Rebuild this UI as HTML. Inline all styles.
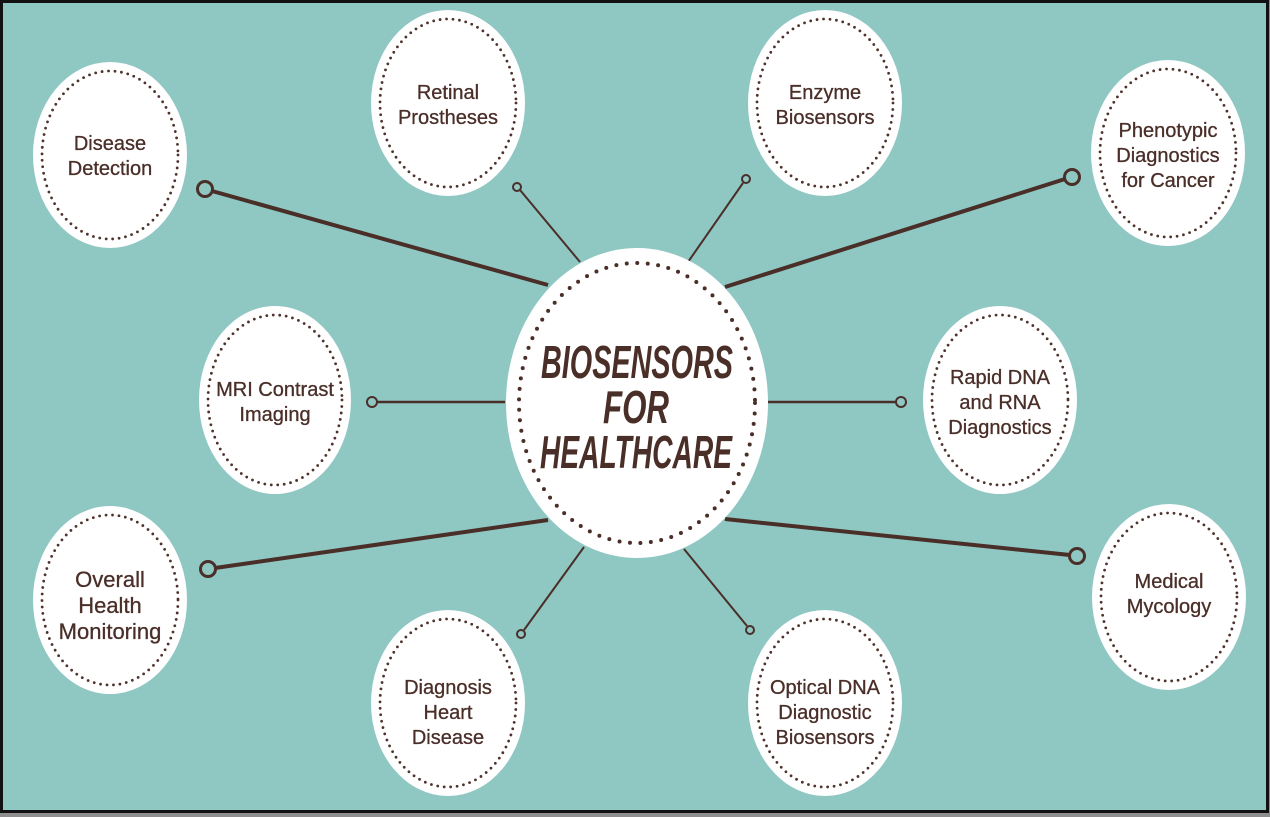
<!DOCTYPE html>
<html><head><meta charset="utf-8"><style>
html,body{margin:0;padding:0;background:#fff;}
svg{display:block;}
text{font-family:"Liberation Sans",sans-serif;fill:#4a2e28;text-anchor:middle;}
</style></head><body>
<svg width="1270" height="817" viewBox="0 0 1270 817" xmlns="http://www.w3.org/2000/svg">
<rect x="0" y="0" width="1270" height="817" fill="#8e8e8e"/>
<rect x="1.5" y="1.5" width="1266" height="810" fill="#8fc7c3" stroke="#111" stroke-width="3"/>
<g stroke="#4a2e28" fill="#8fc7c3">
<line x1="212" y1="191" x2="548" y2="285" stroke-width="4"/><circle cx="205" cy="189" r="7.5" stroke-width="3"/>
<line x1="520" y1="190" x2="580" y2="262" stroke-width="2"/><circle cx="517" cy="187" r="4" stroke-width="2"/>
<line x1="743" y1="183" x2="688" y2="262" stroke-width="2"/><circle cx="746" cy="179" r="4" stroke-width="2"/>
<line x1="1065" y1="179" x2="725" y2="287" stroke-width="4"/><circle cx="1072" cy="177" r="7.5" stroke-width="3"/>
<line x1="377" y1="402" x2="505" y2="402" stroke-width="2.5"/><circle cx="372" cy="402" r="5" stroke-width="2"/>
<line x1="768" y1="402" x2="896" y2="402" stroke-width="2.5"/><circle cx="901" cy="402" r="5" stroke-width="2"/>
<line x1="215" y1="568" x2="548" y2="520" stroke-width="4"/><circle cx="208" cy="569" r="7.5" stroke-width="3"/>
<line x1="725" y1="519" x2="1070" y2="555" stroke-width="4"/><circle cx="1077" cy="556" r="7.5" stroke-width="3"/>
<line x1="524" y1="630" x2="584" y2="547" stroke-width="2"/><circle cx="521" cy="634" r="4" stroke-width="2"/>
<line x1="747" y1="626" x2="684" y2="549" stroke-width="2"/><circle cx="750" cy="630" r="4" stroke-width="2"/>
</g>
<g fill="#fff">
<ellipse cx="110" cy="155" rx="77" ry="93"/>
<ellipse cx="448" cy="103" rx="77" ry="93"/>
<ellipse cx="825" cy="103" rx="77" ry="93"/>
<ellipse cx="1168" cy="153" rx="77" ry="93"/>
<ellipse cx="275" cy="400" rx="76" ry="94"/>
<ellipse cx="1000" cy="400" rx="77" ry="94"/>
<ellipse cx="110" cy="600" rx="77" ry="94"/>
<ellipse cx="1169" cy="597" rx="77" ry="93"/>
<ellipse cx="448" cy="703" rx="77" ry="93"/>
<ellipse cx="825" cy="703" rx="77" ry="93"/>
<ellipse cx="637" cy="403" rx="131" ry="155"/>
</g>
<g fill="none" stroke="#4e322b" stroke-width="2.8" stroke-linecap="round" stroke-dasharray="0 6.5">
<ellipse cx="110" cy="155" rx="68" ry="84"/>
<ellipse cx="448" cy="103" rx="68" ry="84"/>
<ellipse cx="825" cy="103" rx="68" ry="84"/>
<ellipse cx="1168" cy="153" rx="68" ry="84"/>
<ellipse cx="275" cy="400" rx="67" ry="85"/>
<ellipse cx="1000" cy="400" rx="68" ry="85"/>
<ellipse cx="110" cy="600" rx="68" ry="85"/>
<ellipse cx="1169" cy="597" rx="68" ry="84"/>
<ellipse cx="448" cy="703" rx="68" ry="84"/>
<ellipse cx="825" cy="703" rx="68" ry="84"/>
</g>
<ellipse cx="637" cy="403" rx="118" ry="140" fill="none" stroke="#4a2e28" stroke-width="4" stroke-linecap="round" stroke-dasharray="0 10.5"/>
<g font-size="20" stroke="#4a2e28" stroke-width="0.3">
<text x="110" y="150">Disease</text><text x="110" y="175">Detection</text>
<text x="448" y="99">Retinal</text><text x="448" y="124">Prostheses</text>
<text x="825" y="99">Enzyme</text><text x="825" y="124">Biosensors</text>
<text x="1168" y="137">Phenotypic</text><text x="1168" y="162">Diagnostics</text><text x="1168" y="187">for Cancer</text>
<text x="275" y="396">MRI Contrast</text><text x="275" y="421">Imaging</text>
<text x="1000" y="384">Rapid DNA</text><text x="1000" y="409">and RNA</text><text x="1000" y="434">Diagnostics</text>
<text x="1169" y="588">Medical</text><text x="1169" y="613">Mycology</text>
<text x="448" y="694">Diagnosis</text><text x="448" y="719">Heart</text><text x="448" y="744">Disease</text>
<text x="825" y="694">Optical DNA</text><text x="825" y="719">Diagnostic</text><text x="825" y="744">Biosensors</text>
</g>
<g font-size="22" stroke="#4a2e28" stroke-width="0.3">
<text x="110" y="587">Overall</text><text x="110" y="613">Health</text><text x="110" y="639">Monitoring</text>
</g>
<g font-size="46" font-weight="bold" font-style="italic" fill="#4a2a20">
<text x="637" y="378" textLength="192" lengthAdjust="spacingAndGlyphs">BIOSENSORS</text>
<text x="636" y="423" textLength="66" lengthAdjust="spacingAndGlyphs">FOR</text>
<text x="636" y="468" textLength="192" lengthAdjust="spacingAndGlyphs">HEALTHCARE</text>
</g>
</svg>
</body></html>
